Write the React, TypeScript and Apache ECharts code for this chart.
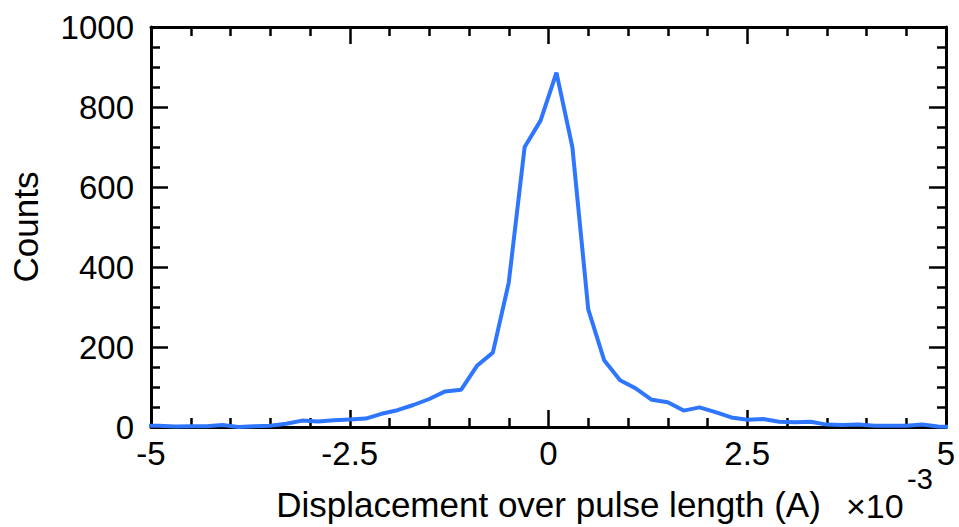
import React, { useEffect, useRef } from "react";
import * as echarts from "echarts";

const xValues = [
  -5.1, -4.9, -4.7, -4.5, -4.3, -4.1, -3.9, -3.7, -3.5, -3.3, -3.1, -2.9, -2.7,
  -2.5, -2.3, -2.1, -1.9, -1.7, -1.5, -1.3, -1.1, -0.9, -0.7, -0.5, -0.3, -0.1,
  0.1, 0.3, 0.5, 0.7, 0.9, 1.1, 1.3, 1.5, 1.7, 1.9, 2.1, 2.3, 2.5, 2.7, 2.9,
  3.1, 3.3, 3.5, 3.7, 3.9, 4.1, 4.3, 4.5, 4.7, 4.9, 5.1,
];
const counts = [
  3, 3, 1, 2, 2, 5, 0, 2, 3, 8, 16, 14, 17, 19, 21, 33, 42, 55, 70, 89, 93,
  153, 186, 361, 700, 766, 886, 700, 294, 167, 117, 96, 68, 62, 41, 49, 37, 24,
  18, 20, 13, 12, 13, 6, 5, 6, 3, 3, 3, 6, 1, 0,
];
const xTickLabels = ["-5", "-2.5", "0", "2.5", "5"];
const yTickLabels = ["0", "200", "400", "600", "800", "1000"];

const FONT = "'Liberation Sans', Arial, Helvetica, sans-serif";

export default function App() {
  const ref = useRef<HTMLDivElement>(null);
  useEffect(() => {
    if (!ref.current) return;
    const chart = echarts.init(ref.current, null, { renderer: "svg" });
    const axisLine = { show: true, onZero: false, lineStyle: { color: "#000", width: 3 } };
    const axisTick = { show: true, inside: true, length: 17, lineStyle: { color: "#000", width: 2.5 } };
    const minorTick = { show: true, length: 9, lineStyle: { color: "#000", width: 2.5 } };
    chart.setOption({
      animation: false,
      backgroundColor: "#fff",
      grid: { left: 145, right: 13, top: 27, bottom: 99, containLabel: false },
      xAxis: [
        {
          type: "value",
          min: -5,
          max: 5,
          interval: 2.5,
          position: "bottom",
          axisLine,
          axisTick,
          minorTick: { ...minorTick, splitNumber: 5 },
          splitLine: { show: false },
          minorSplitLine: { show: false },
          axisLabel: {
            color: "#000",
            fontFamily: FONT,
            fontSize: 33,
            margin: 10,
            formatter: (v: number) => {
              const idx = Math.round((v + 5) / 2.5);
              return xTickLabels[idx] ?? String(v);
            },
          },
          name: "Displacement over pulse length (A)",
          nameLocation: "middle",
          nameGap: 60,
          nameTextStyle: { color: "#000", fontFamily: FONT, fontSize: 35 },
        },
        {
          type: "value",
          min: -5,
          max: 5,
          interval: 2.5,
          position: "top",
          axisLine,
          axisTick,
          minorTick: { ...minorTick, splitNumber: 5 },
          splitLine: { show: false },
          axisLabel: { show: false },
        },
      ],
      yAxis: [
        {
          type: "value",
          min: 0,
          max: 1000,
          interval: 200,
          position: "left",
          axisLine,
          axisTick,
          minorTick: { ...minorTick, splitNumber: 4 },
          splitLine: { show: false },
          minorSplitLine: { show: false },
          axisLabel: {
            color: "#000",
            fontFamily: FONT,
            fontSize: 33,
            margin: 17,
            formatter: (v: number) => {
              const idx = Math.round(v / 200);
              return yTickLabels[idx] ?? String(v);
            },
          },
          name: "Counts",
          nameLocation: "middle",
          nameGap: 108,
          nameTextStyle: { color: "#000", fontFamily: FONT, fontSize: 35 },
        },
        {
          type: "value",
          min: 0,
          max: 1000,
          interval: 200,
          position: "right",
          axisLine,
          axisTick,
          minorTick: { ...minorTick, splitNumber: 4 },
          splitLine: { show: false },
          axisLabel: { show: false },
        },
      ],
      graphic: [
        {
          type: "text",
          left: 846,
          top: 489,
          style: { text: "×10", fill: "#000", font: `34px ${FONT}` },
        },
        {
          type: "text",
          left: 907,
          top: 464,
          style: { text: "-3", fill: "#000", font: `29px ${FONT}` },
        },
      ],
      series: [
        {
          type: "line",
          xAxisIndex: 0,
          yAxisIndex: 0,
          data: xValues.map((x, i) => [x, counts[i]]),
          showSymbol: false,
          symbol: "none",
          clip: true,
          lineStyle: { color: "#2f76ff", width: 4 },
        },
      ],
    });
    return () => chart.dispose();
  }, []);
  return <div ref={ref} style={{ width: 959, height: 527, position: "absolute", left: 0, top: 0 }} />;
}
